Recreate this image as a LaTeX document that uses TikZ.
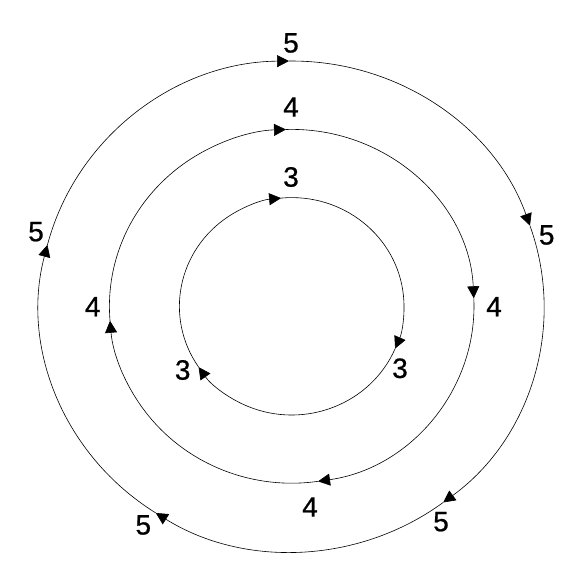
\documentclass[tikz,border=0pt]{standalone}
\usepackage{fontspec}
\setmainfont{Liberation Sans}
\newfontfamily\ringfont[FakeBold=0.7]{Liberation Sans}
\usetikzlibrary{arrows.meta}

\begin{document}
\begin{tikzpicture}[x=1pt,y=1pt,
		ring/.style={line width=0.6pt,-{Triangle[length=12pt,width=12pt]}},
		num/.style={font=\ringfont\fontsize{28}{30}\selectfont,inner sep=0pt}]
		\useasboundingbox (-291.7,-277.7) rectangle (292.3,306.3);
		% outer ring, five arrows
		\foreach \a/\b in {165.5/90.6,90.6/19.2,19.2/-53.1,-53.1/-122.6,-122.6/-194.5}
		\draw[ring] (\a:252.3 and 245.3) arc[start angle=\a,end angle=\b,x radius=252.3,y radius=245.3];
		% middle ring, four arrows
		\foreach \a/\b in {184.7/91.8,91.8/2.6,2.6/-81.7,-81.7/-175.3}
		\draw[ring] (\a:182.3 and 176.9) arc[start angle=\a,end angle=\b,x radius=182.3,y radius=176.9];
		% inner ring, three arrows
		\foreach \a/\b in {214/95.4,95.4/-22.9,-22.9/-146}
		\draw[ring] (\a:112.3 and 108.7) arc[start angle=\a,end angle=\b,x radius=112.3,y radius=108.7];
		% labels
		\node[num] (o1) at (-0.7,263.3) {5};
		\node[num] (o2) at (255,71.3) {5};
		\node[num] (o3) at (149.3,-215.4) {5};
		\node[num] (o4) at (-148.4,-218.7) {5};
		\node[num] (o5) at (-255.7,74.6) {5};
		\node[num] (m1) at (-0.7,199.3) {4};
		\node[num] (m2) at (202.3,-0.4) {4};
		\node[num] (m3) at (18.3,-200.7) {4};
		\node[num] (m4) at (-199,-0.4) {4};
		\node[num] (i1) at (-0.7,129.3) {3};
		\node[num] (i2) at (108.3,-62) {3};
		\node[num] (i3) at (-109,-63.7) {3};
\end{tikzpicture}
\end{document}
